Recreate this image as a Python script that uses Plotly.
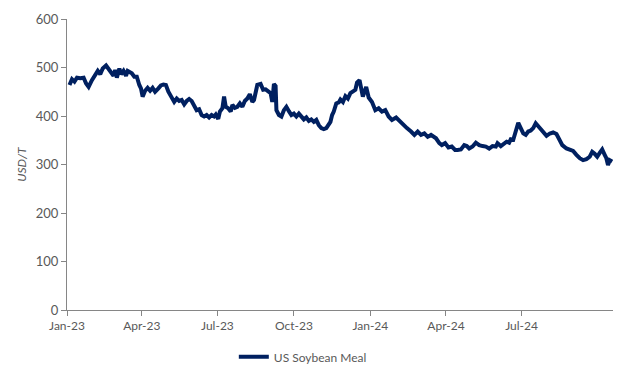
import plotly.graph_objects as go

dates = [
    "2023-01-04","2023-01-07","2023-01-10","2023-01-13","2023-01-17","2023-01-21","2023-01-24","2023-01-27","2023-01-31",
    "2023-02-04","2023-02-07","2023-02-10","2023-02-13","2023-02-17","2023-02-20","2023-02-23","2023-02-26","2023-02-28",
    "2023-03-02","2023-03-05","2023-03-07","2023-03-10","2023-03-13","2023-03-15","2023-03-20","2023-03-23","2023-03-26","2023-03-29","2023-03-31",
    "2023-04-02","2023-04-05","2023-04-08","2023-04-11","2023-04-14","2023-04-17","2023-04-21","2023-04-24","2023-04-27","2023-04-30",
    "2023-05-03","2023-05-07","2023-05-10","2023-05-13","2023-05-16","2023-05-19","2023-05-22","2023-05-25","2023-05-28","2023-05-31",
    "2023-06-03","2023-06-06","2023-06-09","2023-06-12","2023-06-15","2023-06-18","2023-06-21","2023-06-24","2023-06-27","2023-06-29",
    "2023-07-02","2023-07-04","2023-07-07","2023-07-09","2023-07-11","2023-07-14","2023-07-17","2023-07-19","2023-07-22","2023-07-25","2023-07-28","2023-07-31",
    "2023-08-03","2023-08-06","2023-08-09","2023-08-12","2023-08-14","2023-08-16","2023-08-18","2023-08-22","2023-08-25","2023-08-28","2023-08-31",
    "2023-09-03","2023-09-05","2023-09-07","2023-09-09","2023-09-10","2023-09-13","2023-09-16","2023-09-19","2023-09-22","2023-09-25","2023-09-28",
    "2023-10-01","2023-10-04","2023-10-07","2023-10-10","2023-10-13","2023-10-16","2023-10-19","2023-10-22","2023-10-25","2023-10-28","2023-10-31",
    "2023-11-03","2023-11-06","2023-11-09","2023-11-12","2023-11-14","2023-11-16","2023-11-18","2023-11-21","2023-11-24","2023-11-26","2023-11-29",
    "2023-12-02","2023-12-05","2023-12-08","2023-12-11","2023-12-14","2023-12-16","2023-12-19","2023-12-23","2023-12-27","2023-12-30",
    "2024-01-03","2024-01-07","2024-01-11","2024-01-15","2024-01-19","2024-01-23","2024-01-27",
    "2024-02-01","2024-02-05","2024-02-09","2024-02-14","2024-02-19","2024-02-23","2024-02-27",
    "2024-03-02","2024-03-06","2024-03-10","2024-03-14","2024-03-17","2024-03-20","2024-03-24","2024-03-27","2024-03-31",
    "2024-04-04","2024-04-08","2024-04-12","2024-04-15","2024-04-19","2024-04-23","2024-04-26","2024-04-29",
    "2024-05-03","2024-05-07","2024-05-11","2024-05-15","2024-05-19","2024-05-23","2024-05-27","2024-05-31",
    "2024-06-02","2024-06-06","2024-06-10","2024-06-13","2024-06-16","2024-06-18","2024-06-21","2024-06-24","2024-06-27","2024-06-30",
    "2024-07-03","2024-07-06","2024-07-09","2024-07-12","2024-07-15","2024-07-18","2024-07-21","2024-07-24","2024-07-27","2024-07-31",
    "2024-08-04","2024-08-08","2024-08-12","2024-08-15","2024-08-19","2024-08-24","2024-08-28",
    "2024-09-01","2024-09-05","2024-09-09","2024-09-13","2024-09-17","2024-09-21","2024-09-24","2024-09-27","2024-09-30",
    "2024-10-03","2024-10-06","2024-10-09","2024-10-11","2024-10-13","2024-10-15","2024-10-18",
]

soybean_meal = [
    464,476,471,479,478,479,467,460,474,
    486,493,486,498,504,497,493,483,495,
    479,498,486,493,483,493,488,481,481,464,457,
    440,452,458,452,458,450,457,463,465,464,
    450,440,429,436,431,433,424,431,435,431,
    419,412,414,402,399,402,397,402,399,403,
    394,409,416,440,419,416,409,423,417,419,426,419,
    431,436,445,429,433,447,464,466,454,455,450,
    447,429,466,462,412,402,399,412,419,410,402,
    405,399,405,400,393,397,390,393,388,392,381,
    375,373,375,385,388,402,409,426,428,434,429,
    441,436,447,450,454,469,474,440,460,438,
    429,412,416,409,412,399,392,
    397,390,381,375,368,361,368,
    361,364,357,361,357,354,344,340,344,
    335,337,330,330,331,340,338,333,
    337,345,340,338,337,333,338,337,
    344,338,344,347,345,352,351,368,386,375,
    364,361,368,370,375,385,379,370,364,359,
    364,366,363,351,340,333,330,
    328,320,313,309,311,316,326,322,316,
    324,331,320,313,299,309,306,
]

tick_vals = ["2023-01-01","2023-04-01","2023-07-01","2023-10-01","2024-01-01","2024-04-01","2024-07-01"]
tick_text = ["Jan-23","Apr-23","Jul-23","Oct-23","Jan-24","Apr-24","Jul-24"]
y_ticks = [0, 100, 200, 300, 400, 500, 600]

FONT = "Lato, 'Open Sans', sans-serif"
AXIS = "#868686"
TXT = "#595959"

fig = go.Figure()
fig.add_trace(go.Scatter(
    x=dates, y=soybean_meal, mode="lines", name="US Soybean Meal",
    line=dict(color="#002060", width=4, shape="linear"),
))

fig.update_layout(
    width=618, height=369,
    margin=dict(l=67, r=5, t=19, b=59, autoexpand=False),
    paper_bgcolor="white", plot_bgcolor="white",
    font=dict(family=FONT, size=12, color=TXT),
    showlegend=True,
    legend=dict(orientation="h", x=0.49, xanchor="center", xref="container",
                y=0.033, yanchor="middle", yref="container",
                font=dict(size=12, color=TXT), itemwidth=30,
                bgcolor="rgba(0,0,0,0)"),
    xaxis=dict(
        type="date", range=["2023-01-01", "2024-10-19"],
        tickmode="array", tickvals=tick_vals, ticktext=tick_text,
        showgrid=False, zeroline=False,
        showline=True, linecolor=AXIS, linewidth=1,
        ticks="outside", ticklen=5, tickcolor=AXIS,
        tickfont=dict(size=12, color=TXT),
    ),
    yaxis=dict(
        range=[0, 600], tickvals=y_ticks,
        showgrid=False, zeroline=False,
        showline=True, linecolor=AXIS, linewidth=1,
        ticks="outside", ticklen=5, tickcolor=AXIS,
        tickfont=dict(size=13, color=TXT),
        title=dict(text="USD/T", font=dict(size=12, color=TXT, style="italic"), standoff=6),
    ),
)

fig.write_html("out.html")
